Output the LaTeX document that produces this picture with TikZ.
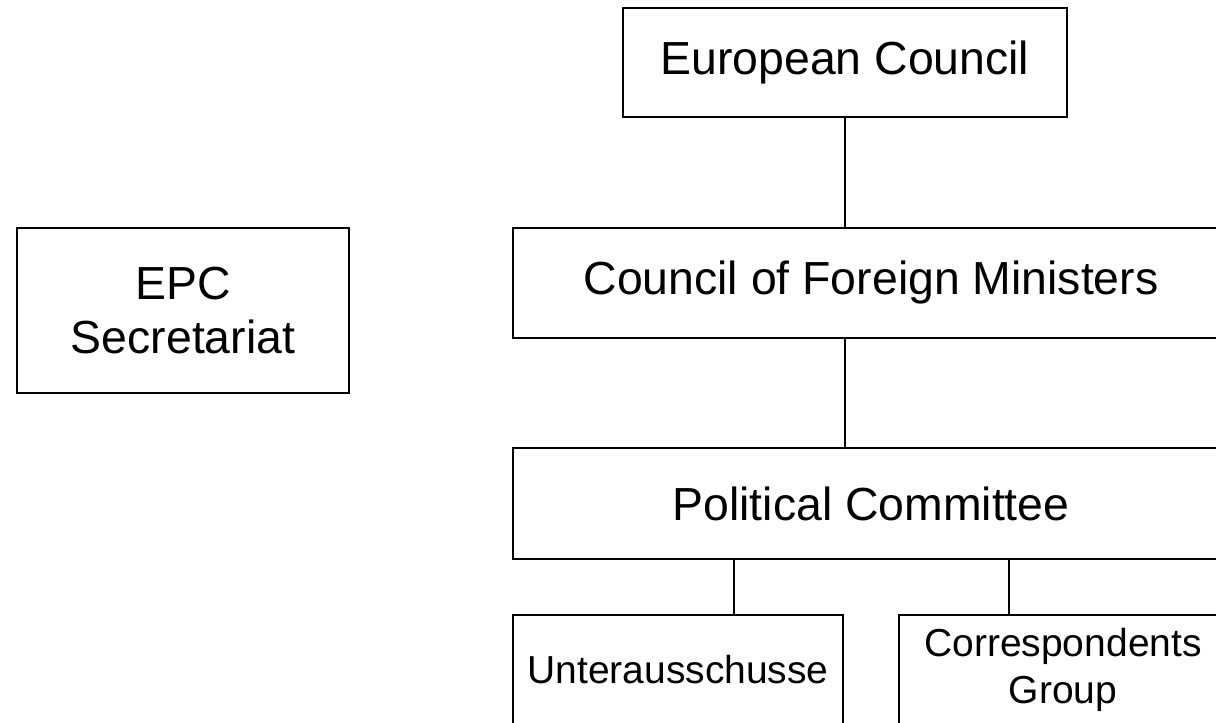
\documentclass[tikz,border=0pt]{standalone}
\usepackage{fontspec}
\setmainfont{Liberation Sans}
\usetikzlibrary{positioning}

\begin{document}
\begin{tikzpicture}[
        box/.style={draw=black, line width=0.6pt, align=center, inner sep=0pt, font=\fontsize{13.2}{15.6}\selectfont},
        smallbox/.style={box, font=\fontsize{11.1}{13.5}\selectfont},
        link/.style={draw=black, line width=0.6pt}
    ]
    \useasboundingbox (0,0) rectangle (12.16,-7.23);
    \clip (0,0) rectangle (12.16,-7.23);
    \node[box, minimum width=4.44cm, minimum height=1.09cm] (ec) at (8.45,-0.625) {European Council};
    \node[box, minimum width=3.32cm, minimum height=1.65cm] (epc) at (1.83,-3.105) {EPC\\Secretariat};
    \node[box, minimum width=7.16cm, minimum height=1.10cm] (cfm) at (8.71,-2.83) {Council of Foreign Ministers};
    \node[box, minimum width=7.16cm, minimum height=1.11cm] (pc) at (8.71,-5.035) {Political Committee};
    \node[smallbox, minimum width=3.30cm, minimum height=1.10cm] (ua) at (6.78,-6.70) {Unterausschusse};
    \node[smallbox, minimum width=3.28cm, minimum height=1.10cm] (cg) at (10.63,-6.70) {Correspondents\\Group};
    % connectors
    \coordinate (ualine) at (7.34,0);
    \coordinate (cgline) at (10.09,0);
    \draw[link] (ec.south) -- (ec.south |- cfm.north);
    \draw[link] (cfm.south -| ec) -- (pc.north -| ec);
    \draw[link] (pc.south -| ualine) -- (ua.north -| ualine);
    \draw[link] (pc.south -| cgline) -- (cg.north -| cgline);
\end{tikzpicture}
\end{document}
